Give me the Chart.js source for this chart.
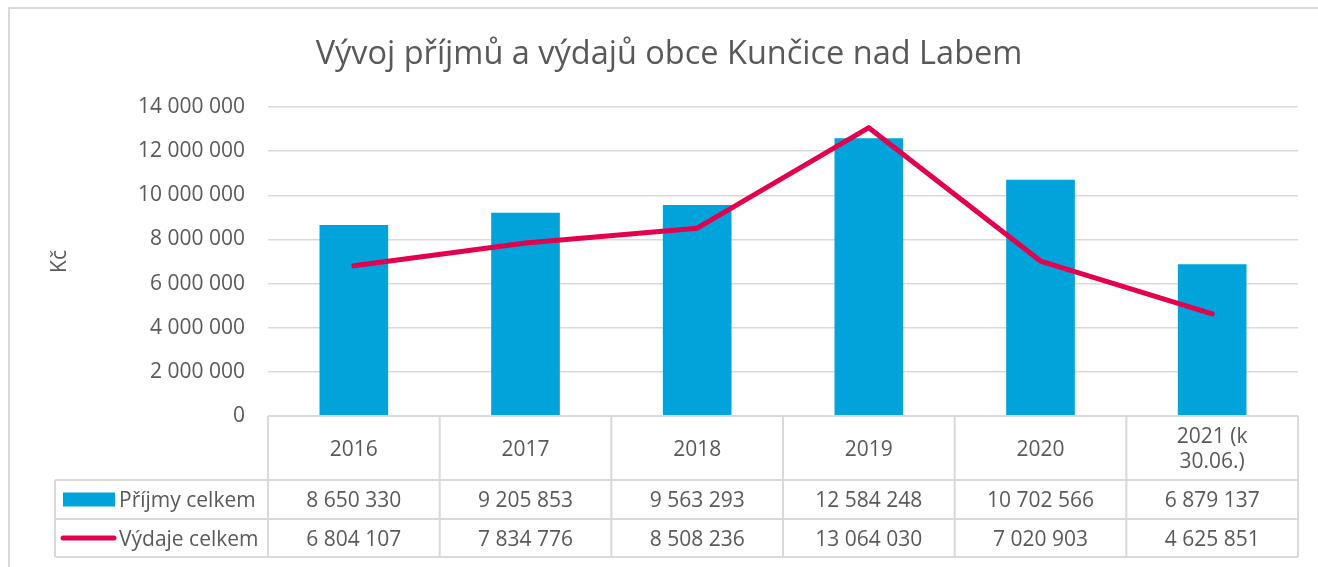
<!DOCTYPE html>
<html>
<head>
<meta charset="utf-8">
<script src="https://cdn.jsdelivr.net/npm/chart.js@4.4.0/dist/chart.umd.min.js"></script>
<style>
html, body { margin: 0; padding: 0; background: #fff; overflow: hidden; }
#obal { position: relative; width: 1318px; height: 567px; }
</style>
</head>
<body>
<div id="obal"><canvas id="graf" width="1318" height="567"></canvas></div>
<script>
// data z grafu
const roky = ['2016', '2017', '2018', '2019', '2020', ['2021 (k', '30.06.)']];
const prijmy = [8650330, 9205853, 9563293, 12584248, 10702566, 6879137];
const vydaje = [6804107, 7834776, 8508236, 13064030, 7020903, 4625851];
const nazvySerii = ['Příjmy celkem', 'Výdaje celkem'];
const osaMax = 14000000;
const osaKrok = 2000000;

const barvy = { prijmy: '#00a3da', vydaje: '#e2004f', text: '#595959', mrizka: '#d9d9d9' };
const pismo = '"Open Sans", sans-serif';

const formatuj = v => String(v).replace(/\B(?=(\d{3})+(?!\d))/g, ' ');

// ramecek kolem celeho grafu
const ramecek = {
    id: 'ramecek',
    beforeDraw(chart) {
        const ctx = chart.ctx;
        ctx.save();
        ctx.strokeStyle = barvy.mrizka;
        ctx.lineWidth = 2;
        ctx.strokeRect(9, 8, 1400, 700);
        ctx.restore();
    }
};

// datova tabulka pod osou x (jako v Excelu)
const tabulka = {
    id: 'tabulka',
    afterDraw(chart) {
        const { ctx, chartArea, scales: { x } } = chart;
        const sirka = x.width / roky.length;
        const levo = chartArea.left;
        const pravo = chartArea.right;
        const y0 = chartArea.bottom;
        const yHlava = y0 + 64;
        const yR1 = yHlava + 39;
        const yR2 = yR1 + 38;
        const legLevo = 55;

        ctx.save();
        ctx.strokeStyle = barvy.mrizka;
        ctx.lineWidth = 2;
        ctx.beginPath();
        for (let i = 0; i <= roky.length; i++) {
            const px = levo + i * sirka;
            ctx.moveTo(px, y0);
            ctx.lineTo(px, yR2);
        }
        ctx.moveTo(levo, y0); ctx.lineTo(pravo, y0);
        [yHlava, yR1, yR2].forEach(py => { ctx.moveTo(legLevo, py); ctx.lineTo(pravo, py); });
        ctx.moveTo(legLevo, yHlava); ctx.lineTo(legLevo, yR2);
        ctx.stroke();

        ctx.fillStyle = barvy.text;
        ctx.font = '21px ' + pismo;
        ctx.textAlign = 'center';
        ctx.textBaseline = 'middle';

        roky.forEach((rok, i) => {
            const cx = x.getPixelForValue(i);
            const radky = Array.isArray(rok) ? rok : [rok];
            const stred = (y0 + yHlava) / 2 + 2;
            radky.forEach((t, j) => {
                ctx.fillText(t, cx, stred + (j - (radky.length - 1) / 2) * 25);
            });
            ctx.fillText(formatuj(prijmy[i]), cx, (yHlava + yR1) / 2 + 2);
            ctx.fillText(formatuj(vydaje[i]), cx, (yR1 + yR2) / 2 + 2);
        });

        // legenda v tabulce
        const s1 = (yHlava + yR1) / 2;
        const s2 = (yR1 + yR2) / 2;
        ctx.fillStyle = barvy.prijmy;
        ctx.fillRect(63, s1 - 7, 52, 14);
        ctx.strokeStyle = barvy.vydaje;
        ctx.lineWidth = 5;
        ctx.lineCap = 'round';
        ctx.beginPath();
        ctx.moveTo(63, s2);
        ctx.lineTo(114, s2);
        ctx.stroke();

        ctx.fillStyle = barvy.text;
        ctx.textAlign = 'left';
        ctx.fillText(nazvySerii[0], 119, s1 + 2);
        ctx.fillText(nazvySerii[1], 119, s2 + 2);
        ctx.restore();
    }
};

const ctx = document.getElementById('graf').getContext('2d');

new Chart(ctx, {
    data: {
        labels: roky,
        datasets: [
            {
                type: 'line',
                label: nazvySerii[1],
                data: vydaje,
                borderColor: barvy.vydaje,
                borderWidth: 5,
                pointRadius: 0,
                tension: 0,
                borderJoinStyle: 'round',
                borderCapStyle: 'round',
                order: 1
            },
            {
                type: 'bar',
                label: nazvySerii[0],
                data: prijmy,
                backgroundColor: barvy.prijmy,
                barPercentage: 0.4,
                categoryPercentage: 1,
                order: 2
            }
        ]
    },
    options: {
        responsive: false,
        animation: false,
        devicePixelRatio: 1,
        layout: { padding: { left: 20, right: 0, top: 0, bottom: 10 } },
        plugins: {
            legend: { display: false },
            tooltip: { enabled: false },
            title: {
                display: true,
                text: 'Vývoj příjmů a výdajů obce Kunčice nad Labem',
                color: barvy.text,
                font: { family: pismo, size: 32.5, weight: 'normal', lineHeight: 1.2 },
                padding: { top: 35, bottom: 33 }
            }
        },
        scales: {
            x: {
                grid: { display: false },
                border: { display: false },
                ticks: { display: false },
                afterFit: s => { s.height = 141; }
            },
            y: {
                min: 0,
                max: osaMax,
                grid: { color: barvy.mrizka, lineWidth: 1.5, drawTicks: false },
                border: { display: false },
                ticks: {
                    stepSize: osaKrok,
                    color: barvy.text,
                    font: { family: pismo, size: 21 },
                    padding: 23,
                    callback: v => formatuj(v)
                },
                title: {
                    display: true,
                    text: 'Kč',
                    color: barvy.text,
                    font: { family: pismo, size: 21 },
                    padding: { top: 27, bottom: 0 }
                },
                afterFit: s => { s.width = 248; }
            },
            // prazdna osa vpravo jen kvuli okraji
            y2: {
                position: 'right',
                display: true,
                grid: { display: false, drawTicks: false },
                border: { display: false },
                ticks: { display: false },
                afterFit: s => { s.width = 20; }
            }
        }
    },
    plugins: [ramecek, tabulka]
});
</script>
</body>
</html>
